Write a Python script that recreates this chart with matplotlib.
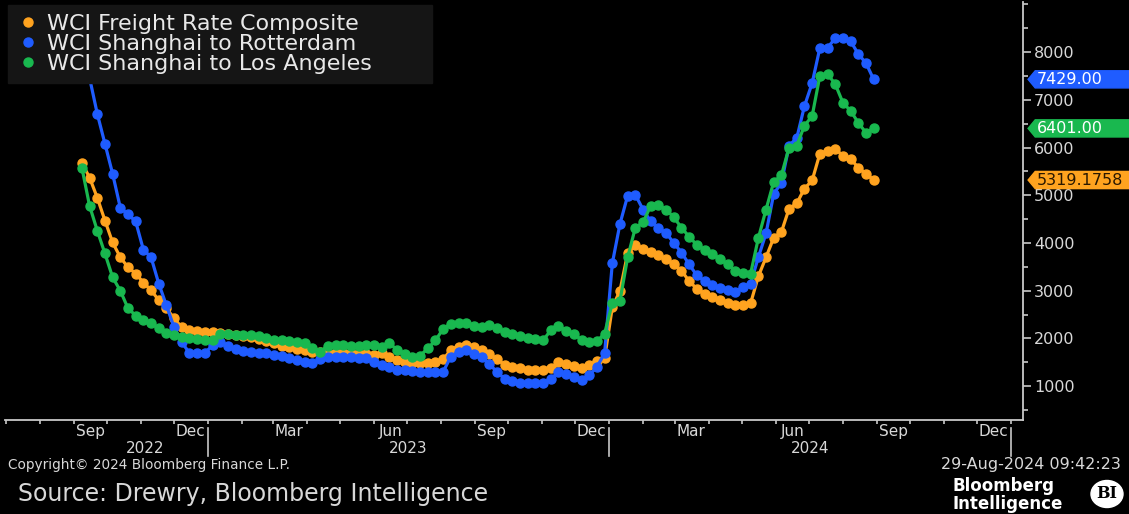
import numpy as np
import pandas as pd
import matplotlib
matplotlib.use("Agg")
import matplotlib.pyplot as plt
import matplotlib.dates as mdates
from matplotlib.lines import Line2D
from matplotlib.patches import Polygon, Ellipse

# weekly WCI readings, USD per 40ft box
dates = pd.date_range("2022-09-08", periods=104, freq="7D")

composite = [5680, 5370, 4950, 4470, 4010, 3700, 3490, 3360, 3170, 3010,
             2800, 2630, 2420, 2230, 2170, 2150, 2140, 2130, 2120, 2100,
             2080, 2050, 2020, 1990, 1950, 1900, 1850, 1810, 1780, 1750,
             1720, 1710, 1700, 1700, 1700, 1690, 1680, 1680, 1660, 1690,
             1620, 1550, 1500, 1480, 1480, 1490, 1500, 1560, 1760, 1830,
             1860, 1820, 1750, 1680, 1560, 1450, 1400, 1370, 1340, 1335,
             1335, 1370, 1500, 1460, 1420, 1376, 1450, 1520, 1585, 2650,
             3000, 3780, 3960, 3880, 3820, 3740, 3660, 3560, 3420, 3200,
             3040, 2940, 2860, 2800, 2740, 2700, 2700, 2740, 3300, 3700,
             4110, 4230, 4720, 4830, 5140, 5310, 5870, 5930, 5970, 5830,
             5760, 5580, 5450, 5319.1758]

rotterdam = [8500, 7460, 6710, 6080, 5450, 4740, 4600, 4450, 3860, 3700,
             3150, 2690, 2230, 1920, 1690, 1690, 1690, 1860, 1920, 1850,
             1780, 1740, 1720, 1700, 1690, 1660, 1630, 1590, 1550, 1510,
             1480, 1560, 1600, 1600, 1610, 1600, 1590, 1580, 1500, 1440,
             1400, 1340, 1330, 1310, 1300, 1295, 1290, 1300, 1620, 1720,
             1750, 1680, 1600, 1460, 1300, 1150, 1100, 1070, 1060, 1060,
             1065, 1150, 1290, 1250, 1200, 1125, 1230, 1400, 1690, 3570,
             4400, 4990, 5010, 4700, 4450, 4310, 4210, 4000, 3800, 3550,
             3320, 3200, 3110, 3060, 3010, 2970, 3080, 3150, 3700, 4200,
             5030, 5260, 6040, 6200, 6870, 7350, 8085, 8090, 8290, 8290,
             8230, 7960, 7770, 7429]

los_angeles = [5580, 4780, 4260, 3780, 3280, 3000, 2630, 2480, 2380, 2320,
               2210, 2110, 2070, 2030, 2000, 1980, 1960, 1960, 2100, 2090,
               2080, 2070, 2066, 2050, 2010, 1970, 1960, 1950, 1930, 1900,
               1800, 1720, 1850, 1857, 1857, 1850, 1850, 1860, 1860, 1830,
               1900, 1760, 1680, 1610, 1640, 1790, 1960, 2200, 2310, 2330,
               2330, 2250, 2240, 2275, 2220, 2140, 2090, 2040, 2010, 1980,
               1960, 2170, 2270, 2150, 2090, 1970, 1930, 1940, 2100, 2740,
               2790, 3700, 4320, 4430, 4780, 4790, 4700, 4540, 4320, 4130,
               3960, 3860, 3760, 3670, 3550, 3420, 3370, 3360, 4100, 4700,
               5280, 5420, 6000, 6040, 6460, 6660, 7500, 7540, 7330, 6940,
               6770, 6520, 6310, 6401]

labels = ["WCI Freight Rate Composite", "WCI Shanghai to Rotterdam",
          "WCI Shanghai to Los Angeles"]
colors = ["#ffa31f", "#1f5cff", "#19b84f"]
tag_text = ["5319.1758", "7429.00", "6401.00"]
tag_fg = ["#2a1800", "white", "white"]
series = [composite, rotterdam, los_angeles]

txt = "#d8d8d8"
fig = plt.figure(figsize=(11.29, 5.14), dpi=100, facecolor="black")
ax = fig.add_axes([5/1129, 94/514, 1018/1129, 418/514])
ax.set_facecolor("black")

for vals, c, lab in zip(series, colors, labels):
    ax.plot(dates, vals, color=c, lw=2.3, marker="o", ms=6.5, mec=c, label=lab)

ax.set_ylim(290, 9050)
ax.set_xlim(pd.Timestamp("2022-06-30"), pd.Timestamp("2025-01-12"))

ax.yaxis.tick_right()
ax.set_yticks(range(1000, 9000, 1000))
ax.set_yticks(range(500, 9050, 500), minor=True)
ax.tick_params(axis="y", which="major", length=6, width=1.2, colors="#c8c8c8",
               labelcolor=txt, labelsize=11.5, pad=2)
ax.tick_params(axis="y", which="minor", length=3.5, width=1.2, colors="#c8c8c8")

ax.xaxis.set_major_locator(mdates.MonthLocator(bymonth=[3, 6, 9, 12], bymonthday=16))
ax.xaxis.set_major_formatter(mdates.DateFormatter("%b"))
ax.xaxis.set_minor_locator(mdates.MonthLocator())
ax.tick_params(axis="x", which="major", length=0, labelcolor=txt, labelsize=11, pad=3)
ax.tick_params(axis="x", which="minor", length=3, width=1.2, colors="#c8c8c8")

for s in ["left", "top"]:
    ax.spines[s].set_visible(False)
for s in ["right", "bottom"]:
    ax.spines[s].set_color("#c8c8c8")
    ax.spines[s].set_linewidth(1.3)

xt = ax.get_xaxis_transform()
for yr, mid in [("2022", "2022-11-05"), ("2023", "2023-07-02"), ("2024", "2024-07-02")]:
    ax.text(pd.Timestamp(mid), -0.069, yr, transform=xt, ha="center", va="center",
            color=txt, fontsize=11)
for sep in ["2023-01-01", "2024-01-01", "2025-01-01"]:
    ax.plot([pd.Timestamp(sep)] * 2, [-0.02, -0.085], transform=xt, color="#c8c8c8",
            lw=1.2, clip_on=False)

# last value tags on the right axis
yt = ax.get_yaxis_transform()
h = 180
for vals, c, t, fg in zip(series, colors, tag_text, tag_fg):
    v = vals[-1]
    ax.add_patch(Polygon([(1.005, v), (1.012, v + h), (1.2, v + h), (1.2, v - h),
                          (1.012, v - h)], closed=True, transform=yt, color=c,
                         clip_on=False, zorder=5))
    ax.text(1.0135, v, t, transform=yt, color=fg, fontsize=11.5, va="center",
            ha="left", zorder=6, clip_on=False)

handles = [Line2D([], [], ls="none", marker="o", ms=6.5, color=c) for c in colors]
leg = ax.legend(handles, labels, loc="upper left",
                bbox_to_anchor=(0.003, 0.8014, 0.4165, 0.1914), mode="expand",
                borderaxespad=0, fontsize=16, frameon=True, fancybox=False,
                facecolor="#151515", edgecolor="#151515", framealpha=1,
                handlelength=1.0, handletextpad=0.35, labelspacing=0.0,
                borderpad=0.4)
for t in leg.get_texts():
    t.set_color("#e8e8e8")
leg.set_zorder(10)

fig.text(8/1129, 1 - 465/514, "Copyright\u00a9 2024 Bloomberg Finance L.P.", color=txt,
         fontsize=9.8, va="center", ha="left")
fig.text(1121/1129, 1 - 465/514, "29-Aug-2024 09:42:23", color=txt,
         fontsize=11.5, va="center", ha="right")
fig.text(18/1129, 1 - 494/514, "Source: Drewry, Bloomberg Intelligence", color=txt,
         fontsize=17, va="center", ha="left")
fig.text(953/1129, 1 - 486/514, "Bloomberg", color="white", fontsize=12,
         fontweight="bold", va="center", ha="left")
fig.text(953/1129, 1 - 504/514, "Intelligence", color="white", fontsize=12,
         fontweight="bold", va="center", ha="left")
fig.patches.append(Ellipse((1107/1129, 1 - 494/514), 32/1129, 27/514,
                           transform=fig.transFigure, color="white"))
fig.text(1107/1129, 1 - 494/514, "BI", color="black", fontsize=11.5,
         fontweight="bold", family="DejaVu Serif", va="center", ha="center")

fig.savefig("out.png", dpi=100, facecolor="black")
